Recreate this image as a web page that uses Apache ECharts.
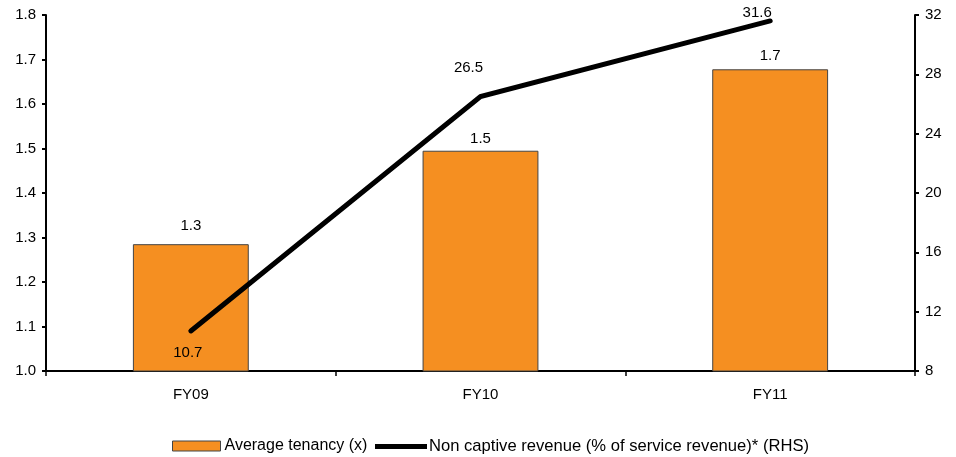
<!DOCTYPE html>
<html>
<head>
<meta charset="utf-8">
<script src="https://cdn.jsdelivr.net/npm/echarts@6/dist/echarts.min.js"></script>
<style>
html,body{margin:0;padding:0;background:#fff;}
#chart{width:956px;height:457px;}
</style>
</head>
<body>
<div id="chart"></div>
<script>
// Fiscal years on the category axis
const categories = ['FY09', 'FY10', 'FY11'];
// Average tenancy (x), left axis
const tenancy = [1.285, 1.495, 1.678];
// Non captive revenue as % of service revenue, right axis
const nonCaptive = [10.7, 26.5, 31.6];
const tenancyName = 'Average tenancy (x)';
const nonCaptiveName = 'Non captive revenue (% of service revenue)* (RHS)';

const font = 'Liberation Sans, Arial, sans-serif';
const fs = 15;

// label placement per point
const barLabelGap = [10.5, 4.5, 5.5];
const lineLabelPos = [
  { position: 'bottom', distance: 14, offset: [-3, 0] },
  { position: 'top', distance: 21, offset: [-12, 0] },
  { position: 'top', distance: 0, offset: [-13, 0] }
];

const chart = echarts.init(document.getElementById('chart'));

chart.setOption({
  animation: false,
  backgroundColor: '#fff',
  textStyle: { fontFamily: font, color: '#000' },
  grid: { left: 46, right: 41, top: 15, bottom: 86 },
  legend: [
    {
      data: [{ name: tenancyName, icon: 'rect' }],
      left: 167, top: 433,
      itemWidth: 48, itemHeight: 10, itemGap: 4,
      textStyle: { fontFamily: font, fontSize: 16, color: '#000', padding: [0, 0, 0, -1] },
      itemStyle: { borderColor: '#444', borderWidth: 1 }
    },
    {
      data: [{ name: nonCaptiveName, icon: 'rect' }],
      left: 370, top: 433,
      itemWidth: 52, itemHeight: 5,
      textStyle: { fontFamily: font, fontSize: 16.6, color: '#000', padding: [0, 0, 0, -3] },
      itemStyle: { color: '#000' }
    }
  ],
  xAxis: {
    type: 'category',
    data: categories,
    boundaryGap: true,
    axisLine: { lineStyle: { color: '#000', width: 2 } },
    axisTick: { show: true, length: 5, lineStyle: { color: '#000', width: 1.5 } },
    axisLabel: { fontFamily: font, fontSize: fs, color: '#000', margin: 16 },
    splitLine: { show: false }
  },
  yAxis: [
    {
      type: 'value',
      min: 1.0, max: 1.8, interval: 0.1,
      axisLine: { show: true, lineStyle: { color: '#000', width: 2 } },
      axisTick: { show: true, length: 4, lineStyle: { color: '#000', width: 2 } },
      axisLabel: { fontFamily: font, fontSize: fs, color: '#000', margin: 10,
        formatter: v => v.toFixed(1) },
      splitLine: { show: false }
    },
    {
      type: 'value',
      min: 8, max: 32, interval: 4,
      position: 'right',
      axisLine: { show: true, lineStyle: { color: '#000', width: 2 } },
      axisTick: { show: true, length: 4, lineStyle: { color: '#000', width: 2 } },
      axisLabel: { fontFamily: font, fontSize: fs, color: '#000', margin: 10 },
      splitLine: { show: false }
    }
  ],
  series: [
    {
      name: tenancyName,
      type: 'bar',
      yAxisIndex: 0,
      barWidth: '40%',
      itemStyle: { color: '#F58F21', borderColor: '#444', borderWidth: 1 },
      label: {
        show: true, position: 'top',
        fontFamily: font, fontSize: fs, color: '#000',
        formatter: p => p.value.toFixed(1)
      },
      data: tenancy.map((v, i) => ({ value: v, label: { distance: barLabelGap[i] } })),
      z: 2
    },
    {
      name: nonCaptiveName,
      type: 'line',
      yAxisIndex: 1,
      symbol: 'circle',
      symbolSize: 1,
      showSymbol: true,
      lineStyle: { color: '#000', width: 5, cap: 'round', join: 'miter' },
      itemStyle: { color: '#000' },
      label: {
        show: true, fontFamily: font, fontSize: fs, color: '#000',
        formatter: p => p.value.toFixed(1)
      },
      data: nonCaptive.map((v, i) => ({ value: v, label: lineLabelPos[i] })),
      z: 5
    }
  ]
});
</script>
</body>
</html>
